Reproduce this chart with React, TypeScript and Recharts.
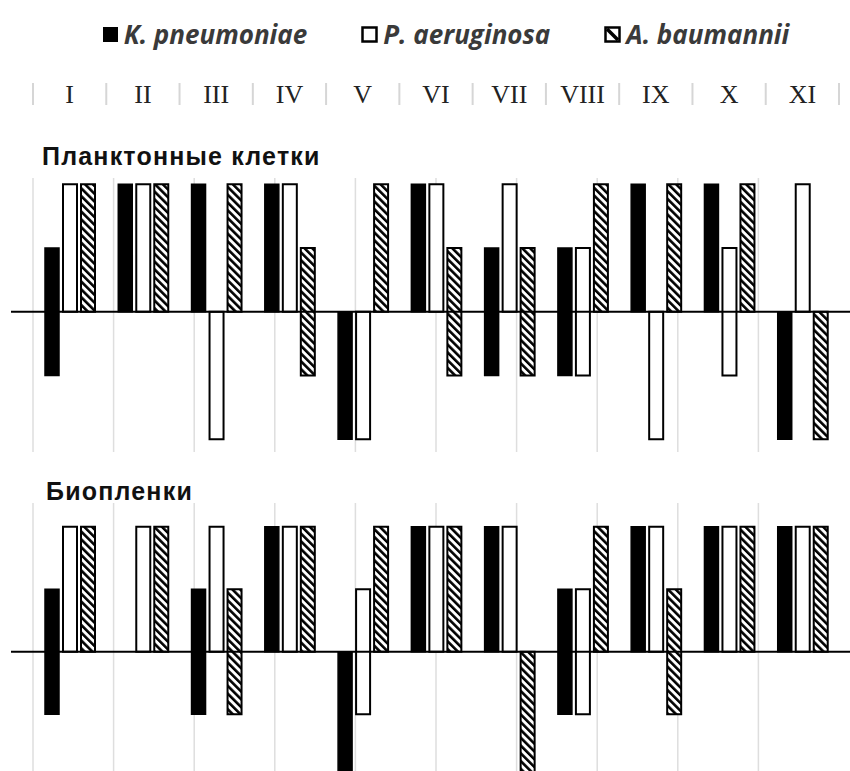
import {
  Bar,
  BarChart,
  CartesianGrid,
  ReferenceLine,
  XAxis,
  YAxis,
} from "recharts";

type Range = [number, number] | null;

const categories = ["I", "II", "III", "IV", "V", "VI", "VII", "VIII", "IX", "X", "XI"];
const seriesNames = ["K. pneumoniae", "P. aeruginosa", "A. baumannii"];

// планктонные клетки
const plankKp: Range[] = [[-1, 1], [0, 2], [0, 2], [0, 2], [0, -2], [0, 2], [-1, 1], [-1, 1], [0, 2], [0, 2], [0, -2]];
const plankPa: Range[] = [[0, 2], [0, 2], [0, -2], [0, 2], [0, -2], [0, 2], [0, 2], [-1, 1], [0, -2], [-1, 1], [0, 2]];
const plankAb: Range[] = [[0, 2], [0, 2], [0, 2], [-1, 1], [0, 2], [-1, 1], [-1, 1], [0, 2], [0, 2], [0, 2], [0, -2]];

// биопленки
const bioKp: Range[] = [[-1, 1], null, [-1, 1], [0, 2], [0, -2], [0, 2], [0, 2], [-1, 1], [0, 2], [0, 2], [0, 2]];
const bioPa: Range[] = [[0, 2], [0, 2], [0, 2], [0, 2], [-1, 1], [0, 2], [0, 2], [-1, 1], [0, 2], [0, 2], [0, 2]];
const bioAb: Range[] = [[0, 2], [0, 2], [-1, 1], [0, 2], [0, 2], [0, 2], [0, -2], [0, 2], [-1, 1], [0, 2], [0, 2]];

const gridTicks = [...categories.map((_, i) => i), categories.length];

const toRows = (kp: Range[], pa: Range[], ab: Range[]) =>
  categories.map((name, i) => ({ name, kp: kp[i], pa: pa[i], ab: ab[i] }));

const plankRows = toRows(plankKp, plankPa, plankAb);
const bioRows = toRows(bioKp, bioPa, bioAb);

const AXIS_PAD = { left: 22, right: 11 };

const NumeralTick = (props: any) => {
  const { x, payload, index } = props;
  const half = payload?.offset ?? 36.6;
  const sep = (sx: number) => (
    <line x1={sx} x2={sx} y1={83} y2={105} stroke="#d6d6d6" strokeWidth={2} />
  );
  return (
    <g>
      {sep(x - half)}
      {index === categories.length - 1 && sep(x + half)}
      <text
        x={x}
        y={103}
        textAnchor="middle"
        fontFamily="'Liberation Serif', 'Times New Roman', serif"
        fontSize={26}
        fill="#222"
      >
        {payload.value}
      </text>
    </g>
  );
};

const Hatch = ({ id }: { id: string }) => (
  <defs>
    <pattern id={id} width={5.5} height={5.5} patternUnits="userSpaceOnUse" patternTransform="rotate(-45)">
      <rect width={5.5} height={5.5} fill="#fff" />
      <rect width={2.6} height={5.5} fill="#000" />
    </pattern>
  </defs>
);

const Series = (hatchId: string) => [
  <Bar key="kp" xAxisId="cat" dataKey="kp" name={seriesNames[0]} fill="#000" stroke="#000" strokeWidth={1.5} isAnimationActive={false} />,
  <Bar key="pa" xAxisId="cat" dataKey="pa" name={seriesNames[1]} fill="#fff" stroke="#000" strokeWidth={2} isAnimationActive={false} />,
  <Bar key="ab" xAxisId="cat" dataKey="ab" name={seriesNames[2]} fill={`url(#${hatchId})`} stroke="#000" strokeWidth={2} isAnimationActive={false} />,
];

const LegendIcon = ({ i }: { i: number }) => (
  <svg width={18} height={18} style={{ marginRight: 5 }}>
    {i === 0 && <rect x={2} y={2} width={15} height={15} fill="#000" />}
    {i === 1 && <rect x={2.5} y={2.5} width={14} height={14} fill="#fff" stroke="#000" strokeWidth={2.5} />}
    {i === 2 && (
      <g>
        <rect x={2.5} y={2.5} width={14} height={14} fill="#fff" stroke="#000" strokeWidth={2.5} />
        <line x1={4} y1={4} x2={15} y2={15} stroke="#000" strokeWidth={3.5} />
      </g>
    )}
  </svg>
);

const titleStyle: React.CSSProperties = {
  position: "absolute",
  fontFamily: "'Liberation Sans', Arial, sans-serif",
  fontWeight: 700,
  fontSize: 25,
  letterSpacing: 1.2,
  color: "#111",
  lineHeight: "28px",
};

export default function App() {
  return (
    <div style={{ position: "absolute", left: 0, top: 0, width: 850, height: 771, background: "#fff", overflow: "hidden" }}>
      <div
        style={{
          position: "absolute",
          top: 16,
          left: 20,
          width: 850,
          display: "flex",
          justifyContent: "center",
          gap: 53,
          fontFamily: "'Open Sans', sans-serif",
          fontStyle: "italic",
          fontWeight: 700,
          fontSize: 26,
          color: "#3a3a3a",
        }}
      >
        {seriesNames.map((n, i) => (
          <div key={n} style={{ display: "flex", alignItems: "center" }}>
            <LegendIcon i={i} />
            <span>{n}</span>
          </div>
        ))}
      </div>

      <div style={{ position: "absolute", left: 0, top: 0 }}>
        <BarChart
          width={850}
          height={460}
          data={plankRows}
          margin={{ top: 78, right: 0, left: 11, bottom: 8 }}
          barSize={14}
          barGap={4}
        >
          <Hatch id="hatchTop" />
          <XAxis
            xAxisId="cat"
            dataKey="name"
            orientation="top"
            height={100}
            axisLine={false}
            tickLine={false}
            interval={0}
            padding={AXIS_PAD}
            tick={<NumeralTick />}
          />
          <XAxis xAxisId="grid" type="number" domain={[0, categories.length]} ticks={gridTicks} padding={AXIS_PAD} hide />
          <YAxis hide domain={[-2.2, 2.1]} allowDataOverflow />
          <CartesianGrid xAxisId="grid" horizontal={false} syncWithTicks stroke="#dedede" strokeWidth={1.5} />
          <ReferenceLine xAxisId="cat" y={0} stroke="#000" strokeWidth={2} />
          {Series("hatchTop")}
        </BarChart>
      </div>
      <div style={{ ...titleStyle, left: 42, top: 142 }}>Планктонные клетки</div>

      <div style={{ position: "absolute", left: 0, top: 460 }}>
        <BarChart
          width={850}
          height={311}
          data={bioRows}
          margin={{ top: 43, right: 0, left: 11, bottom: 0 }}
          barSize={14}
          barGap={4}
        >
          <Hatch id="hatchBottom" />
          <XAxis xAxisId="cat" dataKey="name" padding={AXIS_PAD} hide />
          <XAxis xAxisId="grid" type="number" domain={[0, categories.length]} ticks={gridTicks} padding={AXIS_PAD} hide />
          <YAxis hide domain={[-1.91, 2.38]} allowDataOverflow />
          <CartesianGrid xAxisId="grid" horizontal={false} syncWithTicks stroke="#dedede" strokeWidth={1.5} />
          <ReferenceLine xAxisId="cat" y={0} stroke="#000" strokeWidth={2} />
          {Series("hatchBottom")}
        </BarChart>
      </div>
      <div style={{ ...titleStyle, left: 46, top: 477 }}>Биопленки</div>
    </div>
  );
}
